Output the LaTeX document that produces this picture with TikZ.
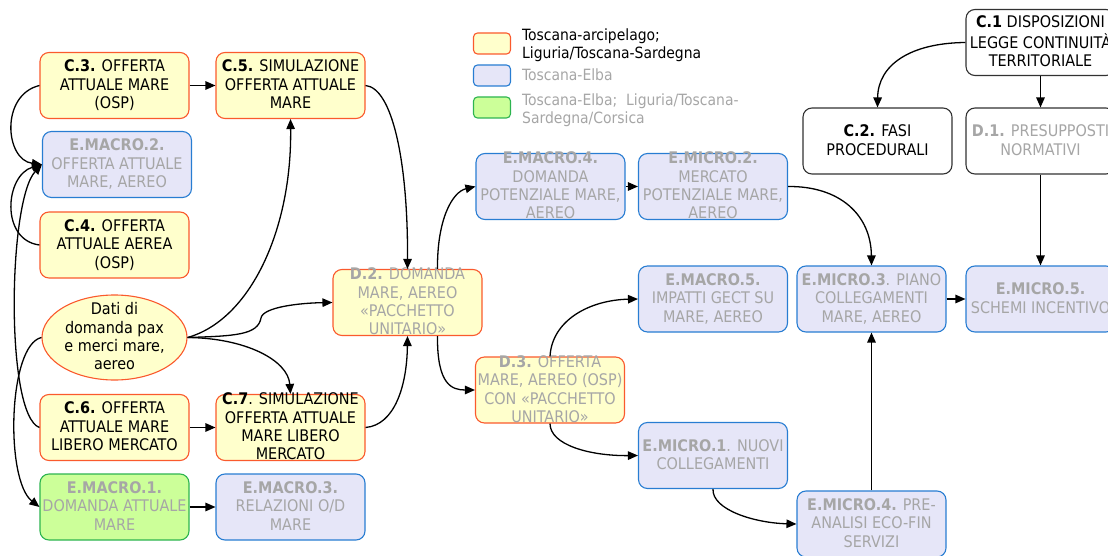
\documentclass[tikz,border=0pt]{standalone}
\usepackage{fontspec}
\setmainfont{DejaVu Sans Condensed}
\usetikzlibrary{arrows.meta,shapes.geometric}
\definecolor{yelfill}{RGB}{255,255,204}
\definecolor{yeldraw}{RGB}{250,90,45}
\definecolor{blufill}{RGB}{230,230,248}
\definecolor{bludraw}{RGB}{40,125,210}
\definecolor{grnfill}{RGB}{204,255,153}
\definecolor{grndraw}{RGB}{45,180,80}
\definecolor{greytxt}{RGB}{166,166,166}
\definecolor{darkdraw}{RGB}{50,50,50}
\newcommand{\boxlines}[1]{\makebox[0pt]{\fontsize{16}{18.4}\selectfont\raisebox{-11pt}{\smash{\begin{tabular}{@{}c@{}}#1\end{tabular}}}}}
\begin{document}
\begin{tikzpicture}[x=1pt,y=1pt,font=\fontsize{15.5}{18.3}\selectfont]
						\tikzstyle{every node}+=[inner sep=0pt]
						\tikzstyle{box}=[draw,rounded corners=9pt,line width=1.1pt,minimum width=149pt,minimum height=66pt]
						\tikzstyle{yel}=[box,draw=yeldraw,fill=yelfill]
						\tikzstyle{blu}=[box,draw=bludraw,fill=blufill,text=greytxt]
						\tikzstyle{grn}=[box,draw=grndraw,fill=grnfill,text=greytxt]
						\tikzstyle{wht}=[box,draw=darkdraw,fill=white]
						\tikzstyle{swatch}=[minimum width=37pt,minimum height=21pt,rounded corners=4pt]
						\tikzstyle{link}=[line width=1.3pt,-{Triangle[length=10pt,width=8.5pt]}]
						\useasboundingbox (0,0) rectangle (1108,-556);
						\node [yel,swatch] (legyel) at (492,-43.5) {};
						\node [anchor=west,align=left] (legyeltxt) at (522,-45) {Toscana-arcipelago;\\Liguria/Toscana-Sardegna};
						\node [blu,swatch] (legblu) at (492,-75.5) {};
						\node [anchor=west,text=greytxt] (legblutxt) at (522,-75) {Toscana-Elba};
						\node [grn,swatch] (leggrn) at (492,-107.5) {};
						\node [anchor=west,align=left,text=greytxt] (leggrntxt) at (522,-110) {Toscana-Elba;\ \ Liguria/Toscana-\\Sardegna/Corsica};
						\node [yel] (c3) at (114.5,-85.5) {\boxlines{\textbf{C.3.} OFFERTA\\ATTUALE MARE\\(OSP)}};
						\node [yel] (c5) at (290.5,-85.5) {\boxlines{\textbf{C.5.} SIMULAZIONE\\OFFERTA ATTUALE\\MARE}};
						\node [blu] (emacro2) at (117,-164.5) {\boxlines{\textbf{E.MACRO.2.}\\OFFERTA ATTUALE\\MARE, AEREO}};
						\node [yel] (c4) at (114.5,-245) {\boxlines{\textbf{C.4.} OFFERTA\\ATTUALE AEREA\\(OSP)}};
						\node [ellipse,draw=yeldraw,fill=yelfill,line width=1.1pt,minimum width=145pt,minimum height=85pt] (dati) at (114.5,-337.5) {\boxlines{Dati di\\domanda pax\\e merci mare,\\aereo}};
						\node [yel] (c6) at (114.5,-427.5) {\boxlines{\textbf{C.6.} OFFERTA\\ATTUALE MARE\\LIBERO MERCATO}};
						\node [yel] (c7) at (290.5,-427.5) {\boxlines{\textbf{C.7}. SIMULAZIONE\\OFFERTA ATTUALE\\MARE LIBERO\\MERCATO}};
						\node [grn] (emacro1) at (114.5,-507) {\boxlines{\textbf{E.MACRO.1.}\\DOMANDA ATTUALE\\MARE}};
						\node [blu] (emacro3) at (290.5,-507) {\boxlines{\textbf{E.MACRO.3.}\\RELAZIONI O/D\\MARE}};
						\node [yel,text=greytxt] (d2) at (407.5,-302.5) {\boxlines{\textbf{D.2.} DOMANDA\\MARE, AEREO\\«PACCHETTO\\UNITARIO»}};
						\node [blu] (emacro4) at (550.5,-186.5) {\boxlines{\textbf{E.MACRO.4.}\\DOMANDA\\POTENZIALE MARE,\\AEREO}};
						\node [blu] (emicro2) at (713,-186.5) {\boxlines{\textbf{E.MICRO.2.}\\MERCATO\\POTENZIALE MARE,\\AEREO}};
						\node [blu] (emacro5) at (713,-299) {\boxlines{\textbf{E.MACRO.5.}\\IMPATTI GECT SU\\MARE, AEREO}};
						\node [yel,text=greytxt] (d3) at (550,-390) {\boxlines{\textbf{D.3.} OFFERTA\\MARE, AEREO (OSP)\\CON «PACCHETTO\\UNITARIO»}};
						\node [blu] (emicro1) at (713,-455.5) {\boxlines{\textbf{E.MICRO.1}. NUOVI\\COLLEGAMENTI}};
						\node [blu] (emicro4) at (871.5,-524) {\boxlines{\textbf{E.MICRO.4.} PRE-\\ANALISI ECO-FIN\\SERVIZI}};
						\node [blu] (emicro3) at (871.5,-299) {\boxlines{\textbf{E.MICRO.3}. PIANO\\COLLEGAMENTI\\MARE, AEREO}};
						\node [blu] (emicro5) at (1040.5,-299) {\boxlines{\textbf{E.MICRO.5.}\\SCHEMI INCENTIVO}};
						\node [wht] (c1) at (1040.5,-42.5) {\boxlines{\textbf{C.1} DISPOSIZIONI\\LEGGE CONTINUITÀ\\TERRITORIALE}};
						\node [wht] (c2) at (877.5,-141) {\boxlines{\textbf{C.2.} FASI\\PROCEDURALI}};
						\node [wht,text=greytxt] (d1) at (1040.5,-141) {\boxlines{\textbf{D.1.} PRESUPPOSTI\\NORMATIVI}};
						\draw [link] (c3) -- (c5);
						\draw [link] (c3.west) .. controls (0,-95) and (5,-160) .. (emacro2.west);
						\draw [link] (c4.west) .. controls (0,-240) and (5,-175) .. (emacro2.west);
						\draw [link] (c6.west) .. controls (5,-415) and (8,-200) .. (emacro2.west);
						\draw [link] (dati.west) .. controls (8,-345) and (5,-480) .. (emacro1.west);
						\draw [link] (dati.east) .. controls (250,-320) and (292,-230) .. (c5.south);
						\draw [link] (dati.east) .. controls (235,-336) and (258,-335) .. (261,-318) .. controls (263,-307) and (300,-303) .. (d2.west);
						\draw [link] (dati.east) .. controls (245,-338) and (288,-360) .. (c7.north);
						\draw [link] (c6) -- (c7);
						\draw [link] (emacro1) -- (emacro3);
						\draw [link] (c5.east) .. controls (392,-88) and (408,-160) .. (d2.north);
						\draw [link] (c7.east) .. controls (395,-425) and (407,-385) .. (d2.south);
						\draw [link] ([xshift=30pt]d2.north) .. controls (437,-220) and (452,-192) .. (emacro4.west);
						\draw [link] ([xshift=30pt]d2.south) .. controls (437,-385) and (452,-390) .. (d3.west);
						\draw [link] (emacro4) -- (emicro2);
						\draw [link] (emicro2.east) .. controls (840,-186) and (871,-215) .. (emicro3.north);
						\draw [link] (d3.north) .. controls (552,-320) and (590,-300) .. (emacro5.west);
						\draw [link] (d3.south) .. controls (550,-445) and (590,-456) .. (emicro1.west);
						\draw [link] (emicro1.south) .. controls (712,-510) and (755,-523) .. (emicro4.west);
						\draw [link] (emicro4) -- (emicro3);
						\draw [link] (emicro3) -- (emicro5);
						\draw [link] (c1.west) .. controls (910,-43) and (878,-65) .. (c2.north);
						\draw [link] (c1) -- (d1);
						\draw [link] (d1) -- (emicro5);
						\end{tikzpicture}
\end{document}
